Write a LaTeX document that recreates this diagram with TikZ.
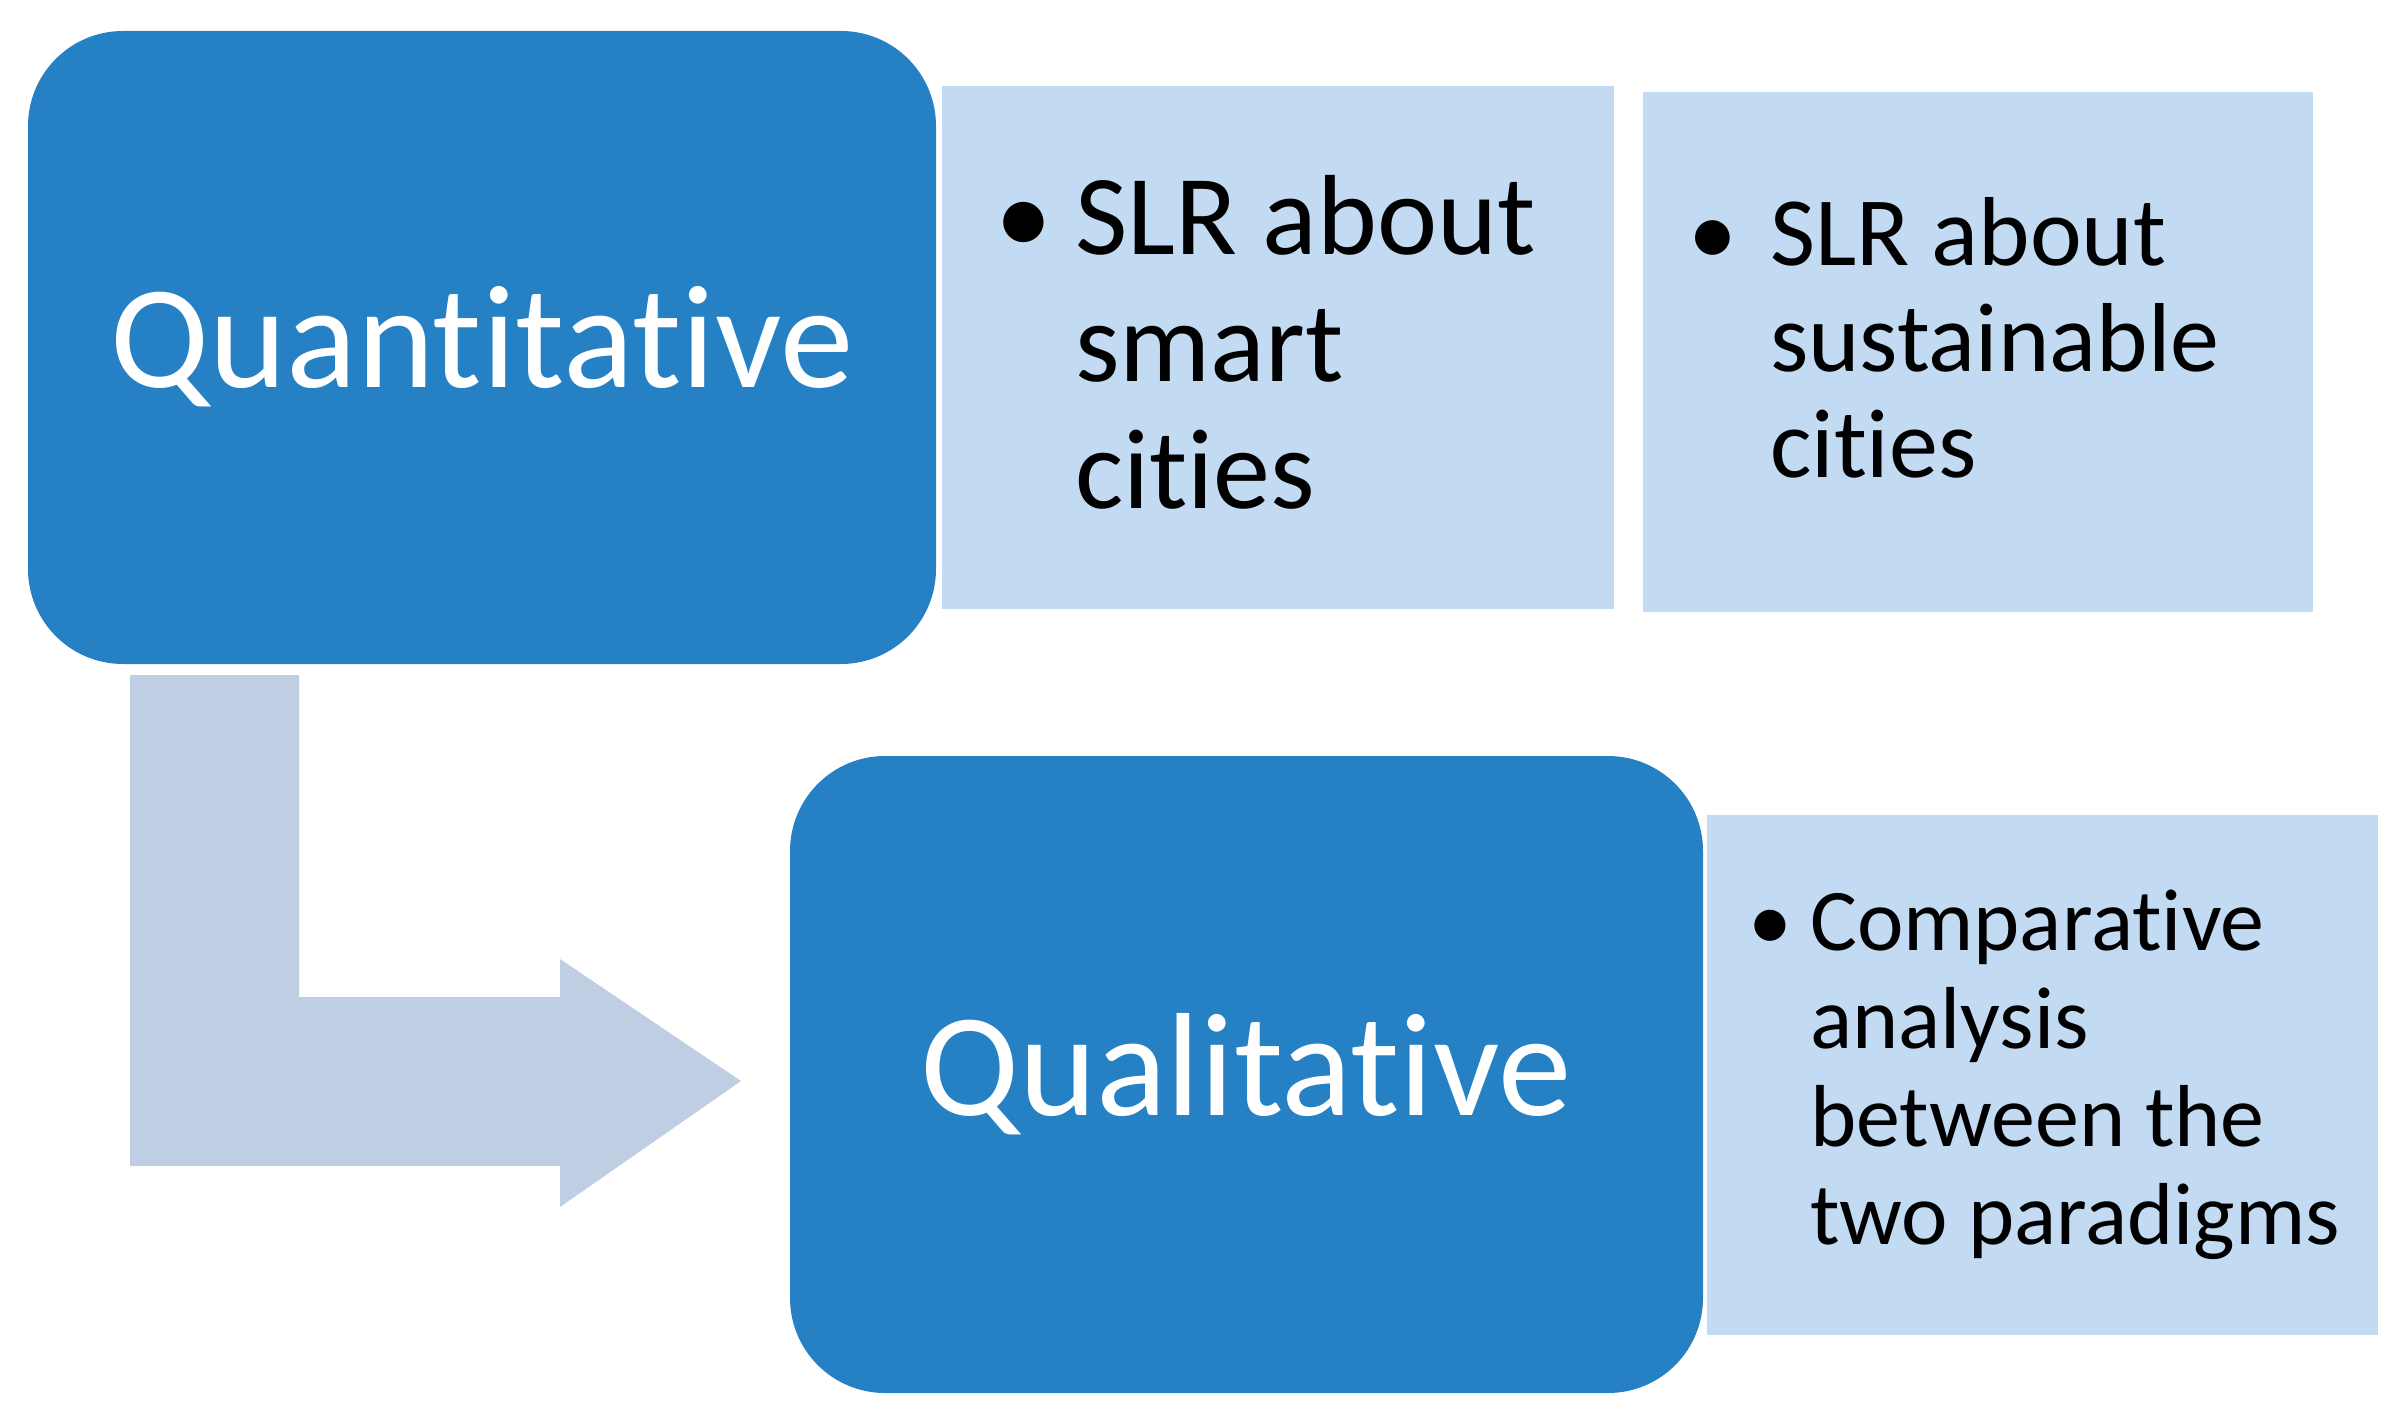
\documentclass[tikz,border=0pt]{standalone}
\usepackage{fontspec}
\setmainfont{Carlito}[Ligatures={NoCommon,NoRequired,NoContextual}]
\definecolor{dark}{HTML}{2581C4}
\definecolor{light}{HTML}{C2DBF2}
\definecolor{arr}{HTML}{C0CEE4}
\begin{document}
\begin{tikzpicture}[x=1pt,y=-1pt,
  bigbox/.style={fill=dark,draw=none,rounded corners=95pt},
  lbox/.style={fill=light,draw=none},
  big/.style={text=white,font=\fontsize{147}{155}\selectfont},
  lst/.style={anchor=north west,inner sep=0pt,align=left}]
\useasboundingbox (0,0) rectangle (2393,1405);
\fill[arr] (130,675) -- (299,675) -- (299,997) -- (560,997) -- (560,959) -- (741,1081) -- (560,1207) -- (560,1166) -- (130,1166) -- cycle;
\fill[bigbox] (28,31) rectangle (936,664);
\node[big] (quant) at (482,347) {Quantitative};
\fill[lbox] (942,86) rectangle (1614,609);
\fill[lbox] (1643,92) rectangle (2313,612);
\fill[bigbox] (790,756) rectangle (1703,1393);
\node[big] (qual) at (1246,1074) {Qualitative};
\fill[lbox] (1707,815) rectangle (2378,1335);
\node[lst,font=\fontsize{114}{127}\selectfont] (l1) at (995,175)
 {\makebox[80pt][l]{\textbullet}SLR about\\\hspace*{80pt}smart\\\hspace*{80pt}cities};
\node[lst,font=\fontsize{98}{106}\selectfont] (l2) at (1688,197)
 {\makebox[82pt][l]{\textbullet}SLR about\\\hspace*{82pt}sustainable\\\hspace*{82pt}cities};
\node[lst,font=\fontsize{88}{98}\selectfont] (l3) at (1748,890)
 {\makebox[62pt][l]{\textbullet}Comparative\\\hspace*{62pt}analysis\\\hspace*{62pt}between the\\\hspace*{62pt}two paradigms};
\end{tikzpicture}
\end{document}
